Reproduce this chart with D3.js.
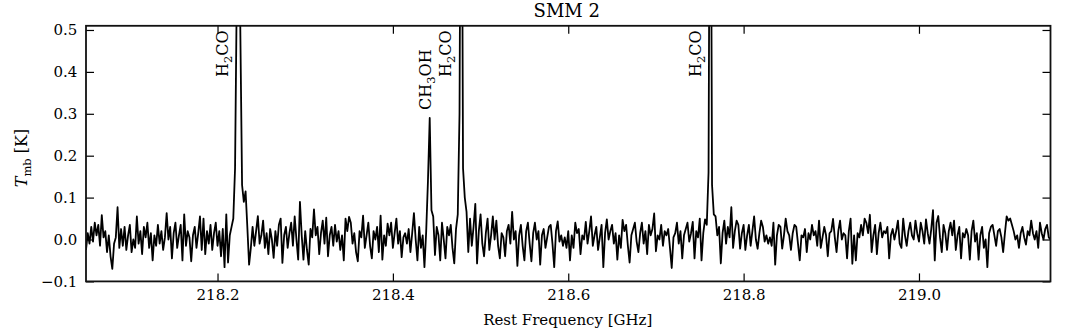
<!DOCTYPE html>
<html>
<head>
<meta charset="utf-8">
<script src="https://cdn.jsdelivr.net/npm/d3@7"></script>
<style>
  body { margin: 0; background: #fff; }
  svg text { font-family: "DejaVu Serif", serif; fill: #000; }
</style>
</head>
<body>
<svg id="chart" width="1072" height="331"></svg>
<script>
// spectrum channels: start frequency (GHz) and channel width (GHz)
var freqStart = 218.05;
var chanWidth = 0.002;

// main-beam temperature, mK (split in chunks)
var tmbA = [-25,15,-10,30,-5,40,10,35,-15,58,
  5,20,-30,10,-40,-70,-10,5,77,-20,
  25,-15,30,-25,10,35,-30,0,-20,55,
  -10,20,-35,30,5,40,-20,15,-50,10,
  -15,35,-10,20,-25,5,63,0,30,-45,
  15,40,-20,10,35,-50,60,-15,20,5,
  -52,10,30,-20,15,55,-25,50,-35,20,
  -10,35,-25,15,40,-15,20,-40,25,-66,
  60,-55,10,30,50,170,600,1200,500,130,
  90,115,30,-60];
var tmbB = [-20,30,-15,20,56,-10,10,45,-20,15,
  -35,25,0,-44,20,-15,35,50,-56,10,
  30,-20,15,40,-15,55,0,-48,90,10,
  -48,20,-25,-60,25,5,72,10,30,-35,
  15,45,-10,52,-40,10,30,-15,35,-5,
  20,-25,10,-50,50,20,54,40,-10,15,
  -30,-52,20,5,57,-20,10,40,-15,-45,
  20,0,30,-30,57,-48,10,-15,38,10,
  40,-20,15,50,-10,20,-42,5,15];
var tmbC = [-10,25,-30,15,63,0,-50,30,-20,10,
  -66,20,140,290,70,55,-37,30,10,-50,
  40,0,-45,30,10,35,-20,-57,25,60,
  300,1300,170,100,66,-30,50,-15,30,85,
  -57,20,60,-10,-40,15,50,-25,10,55,
  0,45,-15,-45,15,5,-40,20,35,-10,
  66,0,20,-63,10,35,-15,-50,20,40,
  -10,-52,15,40,0,20,-60,10,25,-20,
  5,30,35,-10,-66,20,43,-5,10,-15,
  5,-20];
var tmbD = [20,-50,10,-20,40,15,25,-35,10,0,
  42,-10,20,55,-15,10,30,-25,5,35,
  -66,15,48,0,20,35,-10,15,-48,10,
  -20,47,20,35,-15,-55,10,25,40,-5,
  -30,15,40,-10,20,-35,35,10,25,62,
  -28,10,0,35,-15,20,10,25,-20,-68,
  5,15,40,-10,20,-45,10,25,40,-5,
  15,42,-45,20,5,50,-50,15,48,35,
  160,1300,130,60,55,10,30,-57,15,45];
var tmbE = [-10,30,5,77,-20,20,45,35,-22,15,
  35,-25,10,35,-15,20,55,0,-22,15,
  45,30,-5,10,-10,5,-15,40,-60,10,
  35,30,-22,10,50,20,10,-25,15,35,
  30,-10,-50,10,5,25,-30,15,0,35,
  10,20,-15,45,-20,5,30,10,-40,15,
  20,49,5,-30,20,45,0,15,10,-45,
  20,50,-58,10,-50,15,5,35,10,50,
  40,15,59,-30,10,35,-35,15,40,5,20];
var tmbF = [15,30,-45,10,25,0,20,45,-10,-20,
  50,10,-15,20,40,10,0,45,15,-5,
  40,20,-10,48,15,-10,25,70,-50,40,
  56,5,-30,35,15,-25,20,40,10,45,
  -25,10,30,-45,15,5,25,10,-48,20,
  45,-5,15,-48,10,30,-20,0,-66,15,
  30,35,10,-15,20,25,5,-30,15,55,
  45,50,35,20,0,10,-20,15,30,5,
  -12,20,10,45,15,0,20,-20,40,15,
  0,25,35,5,0];

// line identifications: name parts (text, isSubscript), label frequency, label foot (K)
var lineLabels = [
  [["H",0],["2",1],["CO",0]],
  [["CH",0],["3",1],["OH",0]],
  [["H",0],["2",1],["CO",0]],
  [["H",0],["2",1],["CO",0]]
];
var lineLabelFreq = [218.2125, 218.4430, 218.4668, 218.7510];
var lineLabelFoot = [0.388, 0.309, 0.388, 0.388];

var xTicks = [218.2, 218.4, 218.6, 218.8, 219.0];
var yTicks = [-0.1, 0.0, 0.1, 0.2, 0.3, 0.4, 0.5];
var xDomain = [218.05, 219.15];
var yDomain = [-0.1, 0.51];

var chartTitle = "SMM 2";
var xLabel = "Rest Frequency [GHz]";

var margin = {left: 86, right: 1050.5, top: 25.8, bottom: 281.4};

var svg = d3.select("#chart");

var x = d3.scaleLinear().domain(xDomain).range([margin.left, margin.right]);
var y = d3.scaleLinear().domain(yDomain).range([margin.bottom, margin.top]);

var spectrum = [].concat(tmbA, tmbB, tmbC, tmbD, tmbE, tmbF).map(function (v, i) {
  return {f: freqStart + i * chanWidth, t: v / 1000};
});

svg.append("clipPath")
  .attr("id", "plotclip")
  .append("rect")
  .attr("x", margin.left)
  .attr("y", margin.top)
  .attr("width", margin.right - margin.left)
  .attr("height", margin.bottom - margin.top);

// spectrum trace
svg.append("path")
  .datum(spectrum)
  .attr("clip-path", "url(#plotclip)")
  .attr("fill", "none")
  .attr("stroke", "#000")
  .attr("stroke-width", 1.8)
  .attr("stroke-linejoin", "round")
  .attr("d", d3.line().x(function (d) { return x(d.f); }).y(function (d) { return y(d.t); }));

// axes - inward ticks on all four sides (matplotlib classic look)
var fmt = d3.format(".1f");

function styleAxis(g) {
  g.select(".domain").remove();
  g.selectAll(".tick line").attr("stroke", "#000").attr("stroke-width", 1.2);
  g.selectAll(".tick text").style("font-size", "15px").style("font-family", "DejaVu Serif");
}

svg.append("g")
  .attr("transform", "translate(0," + margin.bottom + ")")
  .call(d3.axisBottom(x).tickValues(xTicks).tickSize(-8).tickPadding(7.5).tickFormat(fmt))
  .call(styleAxis);

svg.append("g")
  .attr("transform", "translate(0," + margin.top + ")")
  .call(d3.axisTop(x).tickValues(xTicks).tickSize(-8).tickFormat(""))
  .call(styleAxis);

svg.append("g")
  .attr("transform", "translate(" + margin.left + ",0)")
  .call(d3.axisLeft(y).tickValues(yTicks).tickSize(-8).tickPadding(8.7).tickFormat(fmt))
  .call(styleAxis);

svg.append("g")
  .attr("transform", "translate(" + margin.right + ",0)")
  .call(d3.axisRight(y).tickValues(yTicks).tickSize(-8).tickFormat(""))
  .call(styleAxis);

// frame
svg.append("rect")
  .attr("x", margin.left)
  .attr("y", margin.top)
  .attr("width", margin.right - margin.left)
  .attr("height", margin.bottom - margin.top)
  .attr("fill", "none")
  .attr("stroke", "#111")
  .attr("stroke-width", 1.8);

// line labels, rotated
lineLabels.forEach(function (parts, k) {
  var t = svg.append("text")
    .attr("transform", "translate(" + (x(lineLabelFreq[k]) ) + "," + y(lineLabelFoot[k]) + ") rotate(-90)")
    .attr("text-anchor", "start")
    .style("font-size", "16px");
  var shifted = false;
  parts.forEach(function (p) {
    var s = t.append("tspan").text(p[0]);
    if (p[1]) {
      s.style("font-size", "11.5px").attr("dy", 4);
      shifted = true;
    } else if (shifted) {
      s.attr("dy", -4);
      shifted = false;
    }
  });
});

// title
svg.append("text")
  .attr("x", (margin.left + margin.right) / 2 - 1.5)
  .attr("y", 16.5)
  .attr("text-anchor", "middle")
  .style("font-size", "18px")
  .text(chartTitle);

// x label
svg.append("text")
  .attr("x", (margin.left + margin.right) / 2 - 0.5)
  .attr("y", 325)
  .attr("text-anchor", "middle")
  .style("font-size", "15px")
  .text(xLabel);

// y label: T_mb [K]
var yl = svg.append("text")
  .attr("transform", "translate(27,158) rotate(-90)")
  .attr("text-anchor", "middle")
  .style("font-size", "16px");
yl.append("tspan").style("font-style", "italic").text("T");
yl.append("tspan").style("font-size", "11.5px").attr("dy", 4).text("mb");
yl.append("tspan").attr("dy", -4).text(" [K]");
</script>
</body>
</html>
